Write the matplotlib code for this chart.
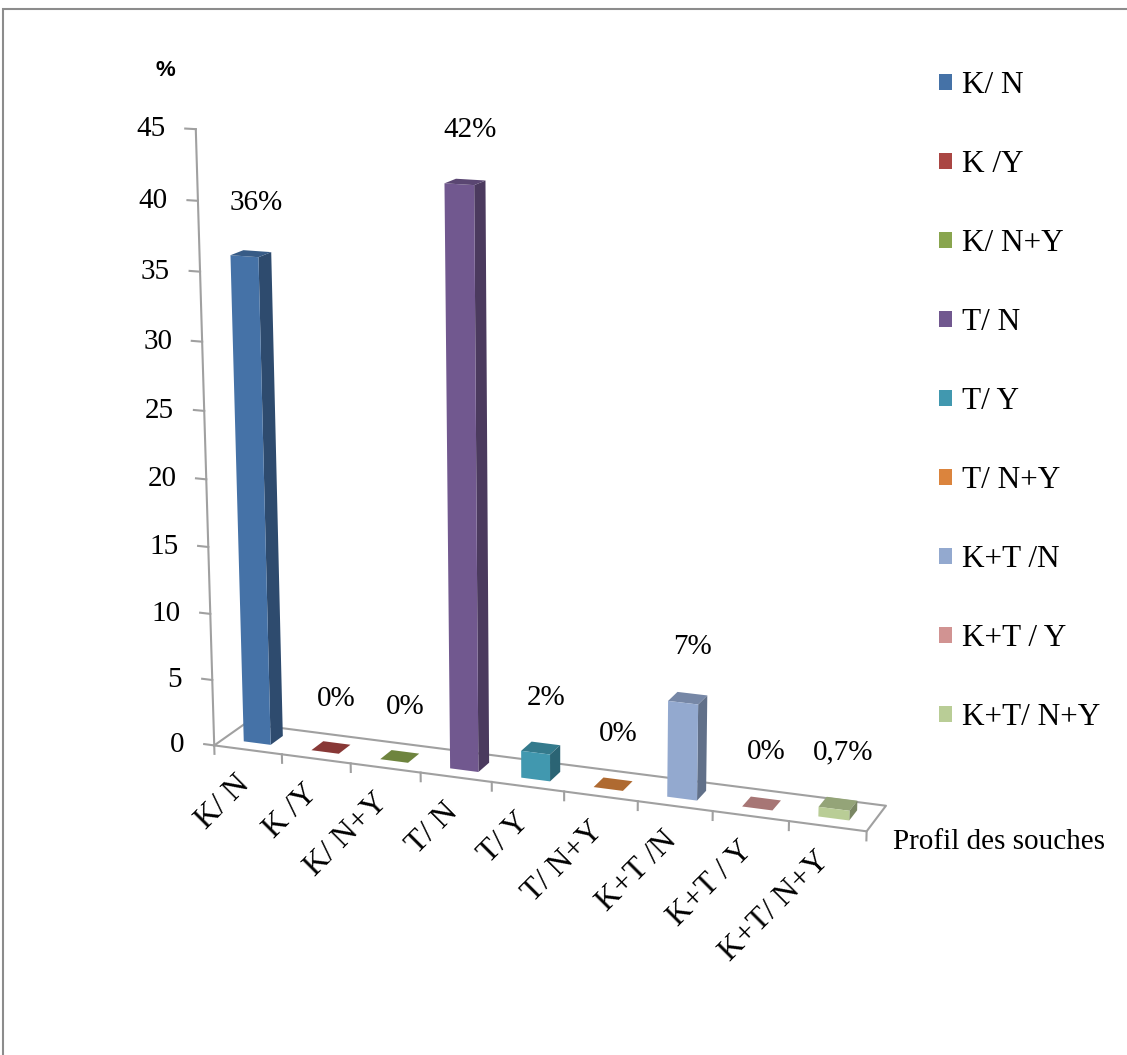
import numpy as np
import matplotlib
matplotlib.use('Agg')
import matplotlib.pyplot as plt
import matplotlib.colors as mcolors
import matplotlib.transforms as mtransforms
from matplotlib.patches import Patch, Rectangle

W, H = 1127, 1055

# --- data ---
categories = ['K/ N', 'K /Y', 'K/ N+Y', 'T/ N', 'T/ Y', 'T/ N+Y', 'K+T /N', 'K+T / Y', 'K+T/ N+Y']
values = [36, 0, 0, 42, 2, 0, 7, 0, 0.7]
value_labels = ['36%', '0%', '0%', '42%', '2%', '0%', '7%', '0%', '0,7%']
bar_colors = ['#4572A7', '#AA4643', '#89A54E', '#71588F', '#4198AF',
              '#DB843D', '#93A9CF', '#D19392', '#B9CD96']
yticks = [0, 5, 10, 15, 20, 25, 30, 35, 40, 45]

serif = 'Liberation Serif'
gray = '#a0a0a0'

fig = plt.figure(figsize=(W / 100, H / 100), dpi=100)

# 3D axes set up to mimic the Excel 3-D column view
ax = fig.add_axes([0.0518, 0.1008, 0.8326, 0.8894], projection='3d')
ax.view_init(elev=14.566, azim=-69.227, roll=0.105)
ax.set_proj_type('persp', focal_length=0.61)
ax.set_box_aspect((9, 0.947, 8.297))
ax.set_axis_off()
ax.computed_zorder = False

n = len(categories)

# floor, value axis and ticks
ax.plot([0, n, n, 0, 0], [0, 0, 1, 1, 0], [0, 0, 0, 0, 0], color=gray, lw=1.5, zorder=1)
ax.plot([0, 0], [0, 0], [0, 45], color=gray, lw=1.5, zorder=1)
for t in yticks:
    ax.plot([-0.15, 0], [0, 0], [t, t], color=gray, lw=1.5, zorder=1)
for i in range(n + 1):
    ax.plot([i, i], [0, 0], [0, -0.65], color=gray, lw=1.5, zorder=1)


def shade(c, k):
    r, g, b = mcolors.to_rgb(c)
    return (r * k, g * k, b * k)


# bars: only the three faces that can be seen are painted
face_cols = []
for c in bar_colors:
    # -z, +z, -y, +y, -x, +x
    face_cols += ['none', shade(c, 0.8), c, 'none', 'none', shade(c, 0.66)]
ax.bar3d(np.arange(n) + 0.3, np.full(n, 0.3), np.zeros(n), 0.4, 0.4, values,
         color=face_cols, shade=False, edgecolor='none', zorder=2)

ax.set_xlim(0, n)
ax.set_ylim(0, 1)
ax.set_zlim(0, 45)

M = ax.get_proj()


def to2d(x, y, z):
    p = M @ np.array([x, y, z, 1.0])
    return p[0] / p[3], p[1] / p[3]


# value axis labels
tick_off = mtransforms.offset_copy(ax.transData, fig=fig, x=-30, y=0, units='dots')
for t in yticks:
    u, v = to2d(0, 0, t)
    ax.text2D(u, v, str(t), transform=tick_off, ha='right', va='center',
              fontsize=21, family=serif)

# data labels above the bars
for i, (val, lab) in enumerate(zip(values, value_labels)):
    u, v = to2d(i + 0.5, 0.7, val + 3.4)
    ax.text2D(u, v, lab, transform=ax.transData, ha='center', va='center',
              fontsize=21, family=serif)

# category labels, rotated
cat_off = mtransforms.offset_copy(ax.transData, fig=fig, x=8, y=-20, units='dots')
for i, lab in enumerate(categories):
    u, v = to2d(i + 0.5, 0, 0)
    ax.text2D(u, v, lab, transform=cat_off, rotation=45, ha='right', va='top',
              fontsize=23, family=serif)

fig.text(165 / W, 1 - 70 / H, '%', ha='center', va='center', fontsize=16,
         fontweight='bold', family='Liberation Sans')
fig.text(893 / W, 1 - 842 / H, 'Profil des souches', ha='left', va='center',
         fontsize=21, family=serif)

handles = [Patch(facecolor=c, edgecolor='none', label=l) for c, l in zip(bar_colors, categories)]
fig.legend(handles=handles, loc='upper left', bbox_to_anchor=(939 / W, 1 - 71 / H),
           frameon=False, prop={'family': serif, 'size': 22.5}, handlelength=0.42,
           handleheight=0.42, handletextpad=0.3, labelspacing=1.6, borderpad=0,
           borderaxespad=0)

# outer frame of the chart area (cut by the picture edge on the right and bottom)
fig.patches.append(Rectangle((3 / W, -0.05), 1.2, 1.05 - 9 / H, transform=fig.transFigure,
                             fill=False, edgecolor='#8c8c8c', lw=1.5))

fig.savefig('out.png', dpi=100)
